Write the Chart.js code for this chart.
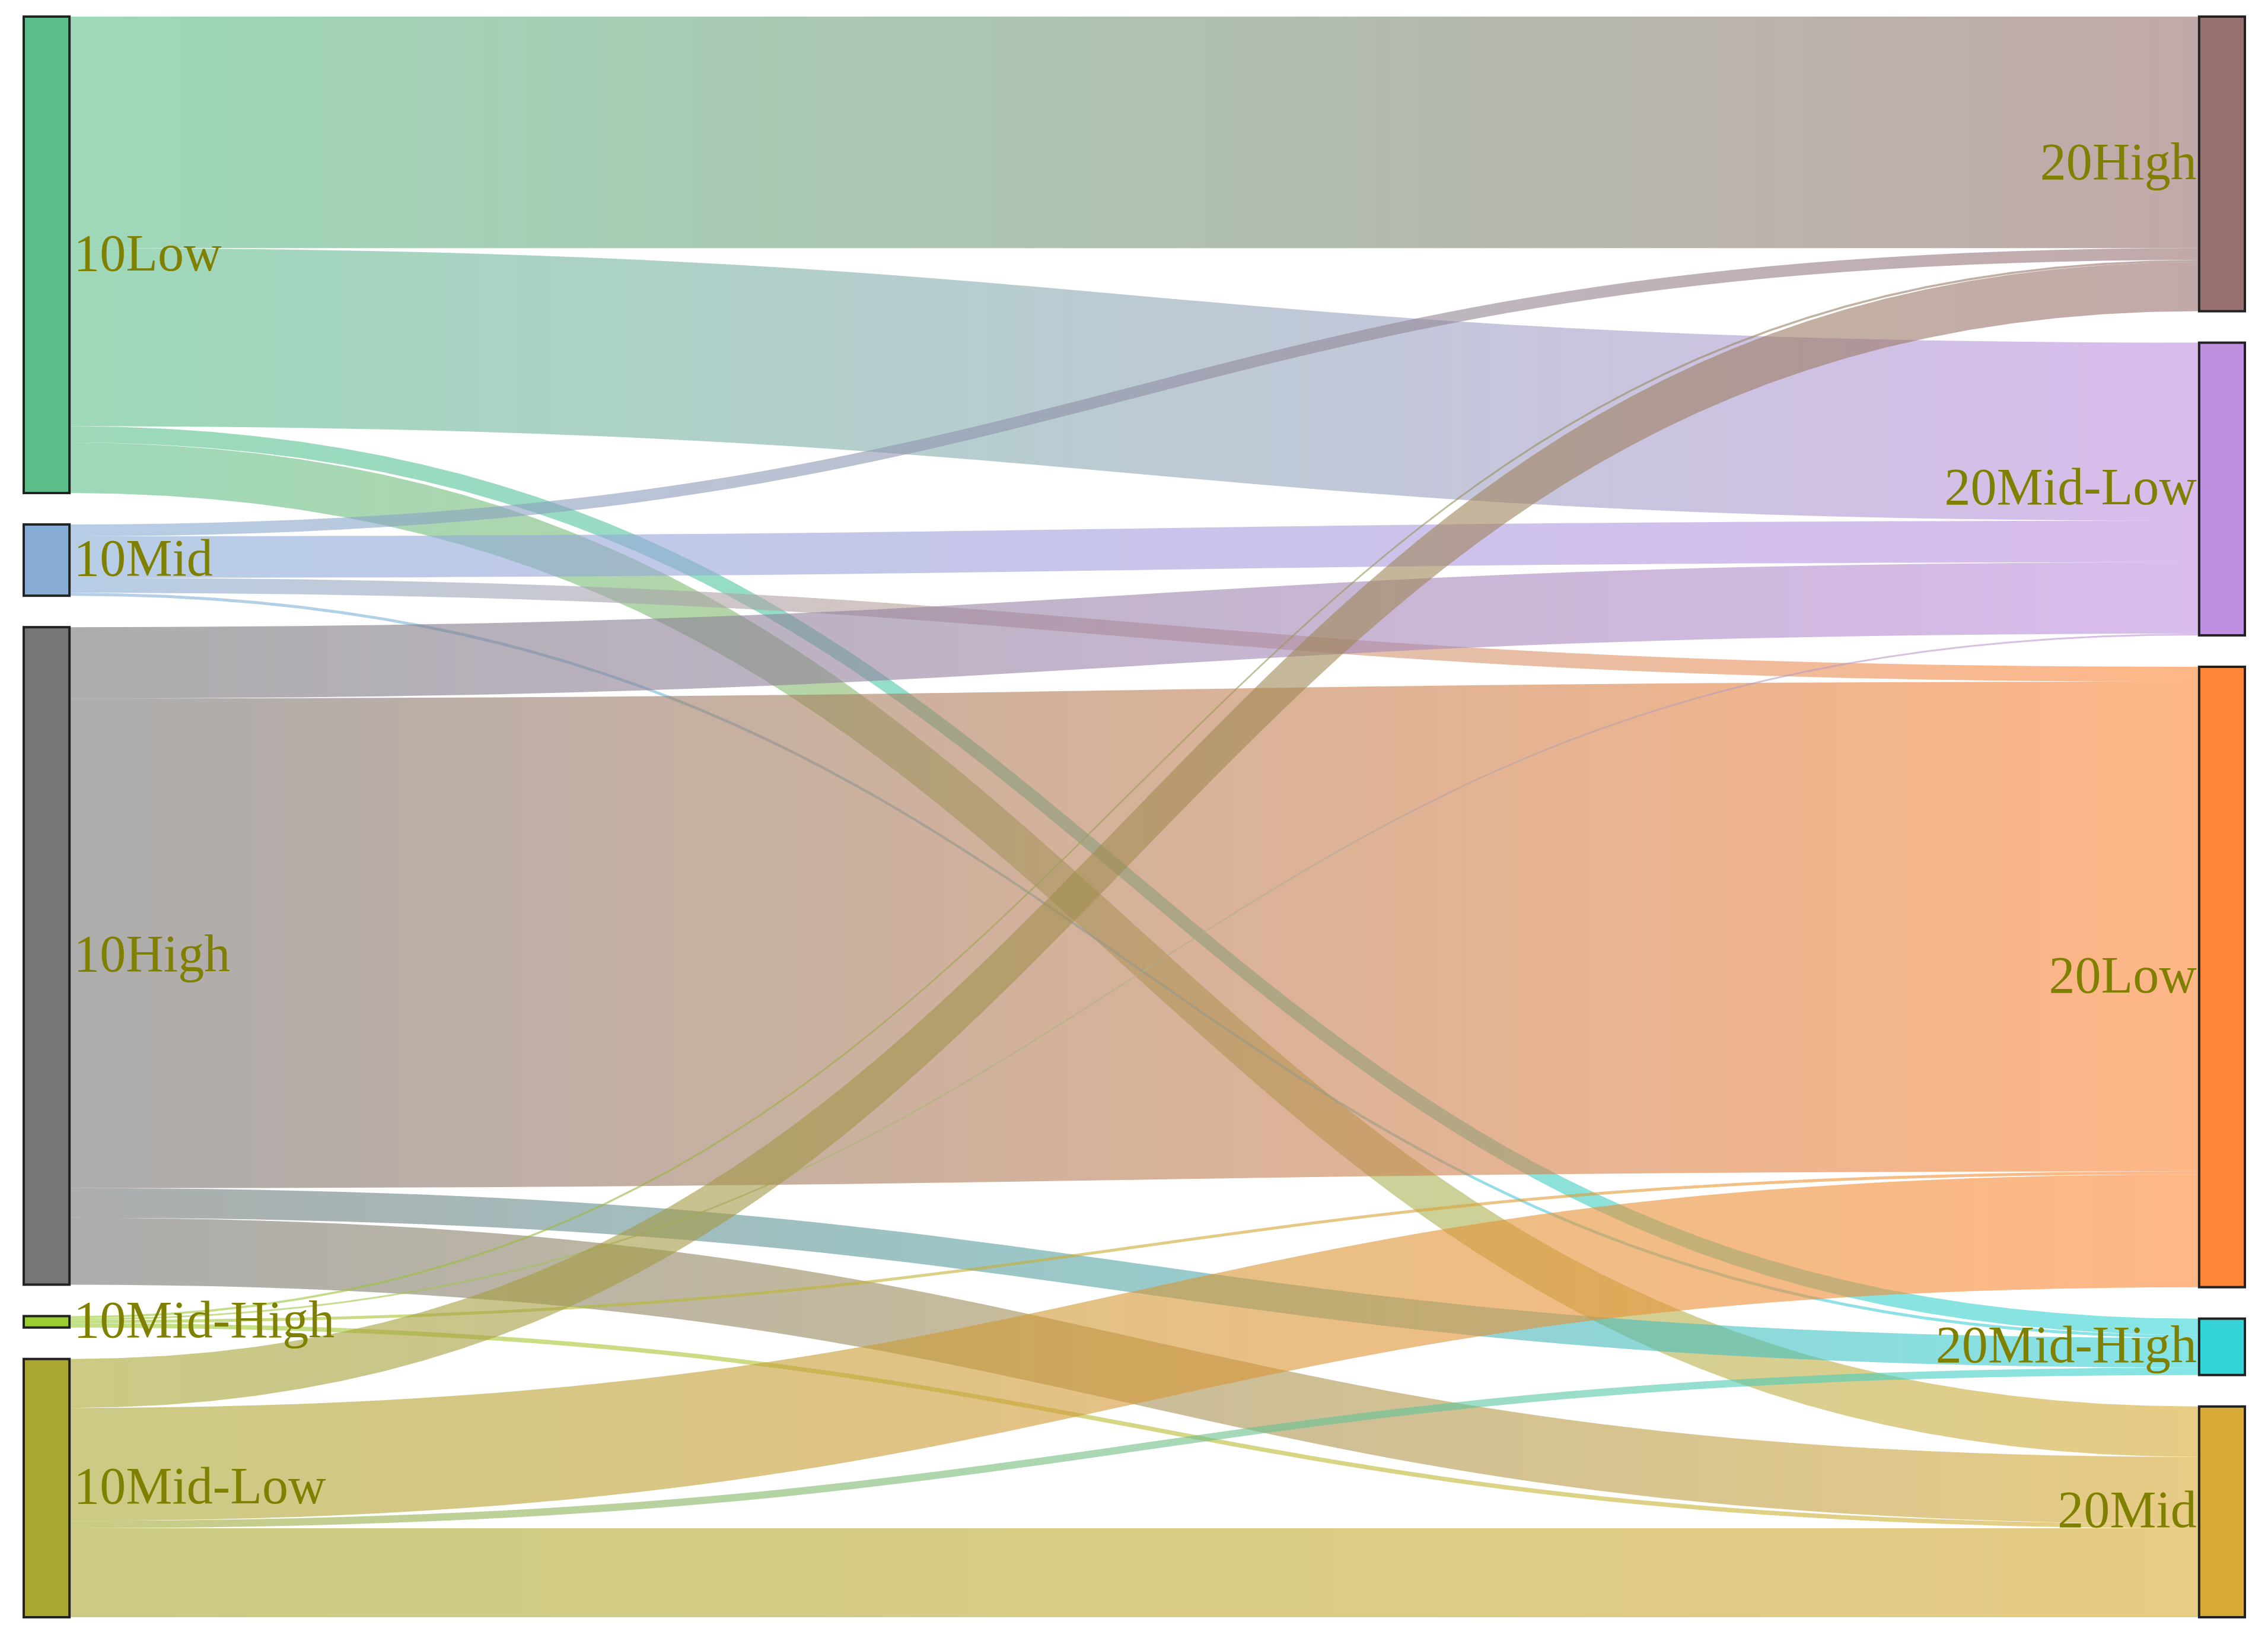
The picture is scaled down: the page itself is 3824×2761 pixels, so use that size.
<!DOCTYPE html>
<html>
<head>
<meta charset="utf-8">
<script src="https://cdn.jsdelivr.net/npm/chart.js@4.4.1/dist/chart.umd.min.js"></script>
<style>
html,body{margin:0;padding:0;background:#ffffff;}
#wrap{width:3824px;height:2761px;position:relative;}
</style>
</head>
<body>
<div id="wrap"><canvas id="c"></canvas></div>
<script>
// ---- data ----
const leftNodes = ['10Low', '10Mid', '10High', '10Mid-High', '10Mid-Low'];
const rightNodes = ['20High', '20Mid-Low', '20Low', '20Mid-High', '20Mid'];
const linkSource = ['10Low','10Low','10Low','10Low',
                    '10Mid','10Mid','10Mid','10Mid',
                    '10High','10High','10High','10High',
                    '10Mid-High','10Mid-High','10Mid-High','10Mid-High',
                    '10Mid-Low','10Mid-Low','10Mid-Low','10Mid-Low'];
const linkTarget = ['20High','20Mid-Low','20Mid-High','20Mid',
                    '20High','20Mid-Low','20Low','20Mid-High',
                    '20Mid-Low','20Low','20Mid-High','20Mid',
                    '20High','20Mid-Low','20Low','20Mid',
                    '20High','20Low','20Mid-High','20Mid'];
const linkValue = [156, 120, 11, 34,
                   8, 28, 10, 2,
                   48, 330, 20, 45,
                   1.5, 1.2, 2, 3,
                   33, 76, 5, 60];

// ---- style ----
const leftColors = ['#5cbf8a', '#87acd6', '#767676', '#9acd32', '#a8a832'];
const rightColors = ['#987070', '#c090e0', '#ff8636', '#34d3d6', '#d6aa34'];
const LINK_ALPHA = 0.6;
const NODE_GAP = 21.2;     // vertical gap between nodes, in value units
const NODE_W = 0.0206;     // node width, in x-axis units
const LABEL_FONT = '88px "Liberation Serif", "DejaVu Serif", serif';
const LABEL_COLOR = '#808000';

// ---- layout helpers ----
function nodeValue(name) {
  let vin = 0, vout = 0;
  for (let i = 0; i < linkValue.length; i++) {
    if (linkSource[i] === name) vout += linkValue[i];
    if (linkTarget[i] === name) vin += linkValue[i];
  }
  return Math.max(vin, vout);
}
function colSum(nodes) { return nodes.reduce((s, n) => s + nodeValue(n), 0); }
const yMax = Math.max(colSum(leftNodes) + (leftNodes.length - 1) * NODE_GAP,
                      colSum(rightNodes) + (rightNodes.length - 1) * NODE_GAP);

function columnLayout(nodes) {
  const out = {};
  let y = 0;
  nodes.forEach((n, i) => {
    const v = nodeValue(n);
    out[n] = {y0: y, y1: y + v, idx: i};
    y += v + NODE_GAP;
  });
  return out;
}

function hexToRgba(hex, a) {
  const h = hex.replace('#', '');
  const r = parseInt(h.substr(0, 2), 16), g = parseInt(h.substr(2, 2), 16), b = parseInt(h.substr(4, 2), 16);
  return `rgba(${r},${g},${b},${a})`;
}

const sankeyPlugin = {
  id: 'sankeyDraw',
  afterDatasetsDraw(chart) {
    const ctx = chart.ctx;
    const xs = chart.scales.x, ys = chart.scales.y;
    const L = columnLayout(leftNodes), R = columnLayout(rightNodes);
    const xL0 = xs.getPixelForValue(0), xL1 = xs.getPixelForValue(NODE_W);
    const xR0 = xs.getPixelForValue(1 - NODE_W), xR1 = xs.getPixelForValue(1);

    // link offsets: at source ordered by target index, at target ordered by source index
    const idx = linkValue.map((v, i) => i);
    const srcOff = {}, tgtOff = {};
    leftNodes.forEach(n => srcOff[n] = L[n].y0);
    rightNodes.forEach(n => tgtOff[n] = R[n].y0);
    const sPos = [], tPos = [];
    idx.slice().sort((a, b) => (L[linkSource[a]].idx - L[linkSource[b]].idx) || (R[linkTarget[a]].idx - R[linkTarget[b]].idx))
      .forEach(i => { const s = linkSource[i]; sPos[i] = srcOff[s]; srcOff[s] += linkValue[i]; });
    idx.slice().sort((a, b) => (R[linkTarget[a]].idx - R[linkTarget[b]].idx) || (L[linkSource[a]].idx - L[linkSource[b]].idx))
      .forEach(i => { const t = linkTarget[i]; tPos[i] = tgtOff[t]; tgtOff[t] += linkValue[i]; });

    ctx.save();
    // links
    const cx = (xL1 + xR0) / 2;
    idx.forEach(i => {
      const s = linkSource[i], t = linkTarget[i], v = linkValue[i];
      const sy0 = ys.getPixelForValue(sPos[i]), sy1 = ys.getPixelForValue(sPos[i] + v);
      const ty0 = ys.getPixelForValue(tPos[i]), ty1 = ys.getPixelForValue(tPos[i] + v);
      const grad = ctx.createLinearGradient(xL1, 0, xR0, 0);
      grad.addColorStop(0, hexToRgba(leftColors[L[s].idx], LINK_ALPHA));
      grad.addColorStop(1, hexToRgba(rightColors[R[t].idx], LINK_ALPHA));
      ctx.beginPath();
      ctx.moveTo(xL1, sy0);
      ctx.bezierCurveTo(cx, sy0, cx, ty0, xR0, ty0);
      ctx.lineTo(xR0, ty1);
      ctx.bezierCurveTo(cx, ty1, cx, sy1, xL1, sy1);
      ctx.closePath();
      ctx.fillStyle = grad;
      ctx.fill();
    });

    // nodes
    ctx.lineWidth = 4;
    ctx.strokeStyle = '#222222';
    leftNodes.forEach((n, i) => {
      const y0 = ys.getPixelForValue(L[n].y0), y1 = ys.getPixelForValue(L[n].y1);
      ctx.fillStyle = leftColors[i];
      ctx.fillRect(xL0, y0, xL1 - xL0, y1 - y0);
      ctx.strokeRect(xL0, y0, xL1 - xL0, y1 - y0);
    });
    rightNodes.forEach((n, i) => {
      const y0 = ys.getPixelForValue(R[n].y0), y1 = ys.getPixelForValue(R[n].y1);
      ctx.fillStyle = rightColors[i];
      ctx.fillRect(xR0, y0, xR1 - xR0, y1 - y0);
      ctx.strokeRect(xR0, y0, xR1 - xR0, y1 - y0);
    });

    // labels
    ctx.font = LABEL_FONT;
    ctx.fillStyle = LABEL_COLOR;
    ctx.textBaseline = 'middle';
    ctx.textAlign = 'left';
    leftNodes.forEach(n => {
      const ym = ys.getPixelForValue((L[n].y0 + L[n].y1) / 2);
      ctx.fillText(n, xL1 + 7, ym + 3);
    });
    ctx.textAlign = 'right';
    rightNodes.forEach(n => {
      const ym = ys.getPixelForValue((R[n].y0 + R[n].y1) / 2);
      ctx.fillText(n, xR0 - 4, ym + 3);
    });
    ctx.restore();
  }
};

new Chart(document.getElementById('c'), {
  type: 'scatter',
  data: { datasets: [{ data: [], showLine: false }] },
  options: {
    responsive: true,
    maintainAspectRatio: false,
    animation: false,
    events: [],
    devicePixelRatio: 1,
    layout: { padding: { left: 40, right: 39, top: 28, bottom: 35 } },
    scales: {
      x: { type: 'linear', min: 0, max: 1, display: false },
      y: { type: 'linear', min: 0, max: yMax, reverse: true, display: false }
    },
    plugins: { legend: { display: false }, tooltip: { enabled: false }, title: { display: false } }
  },
  plugins: [sankeyPlugin]
});
</script>
</body>
</html>
